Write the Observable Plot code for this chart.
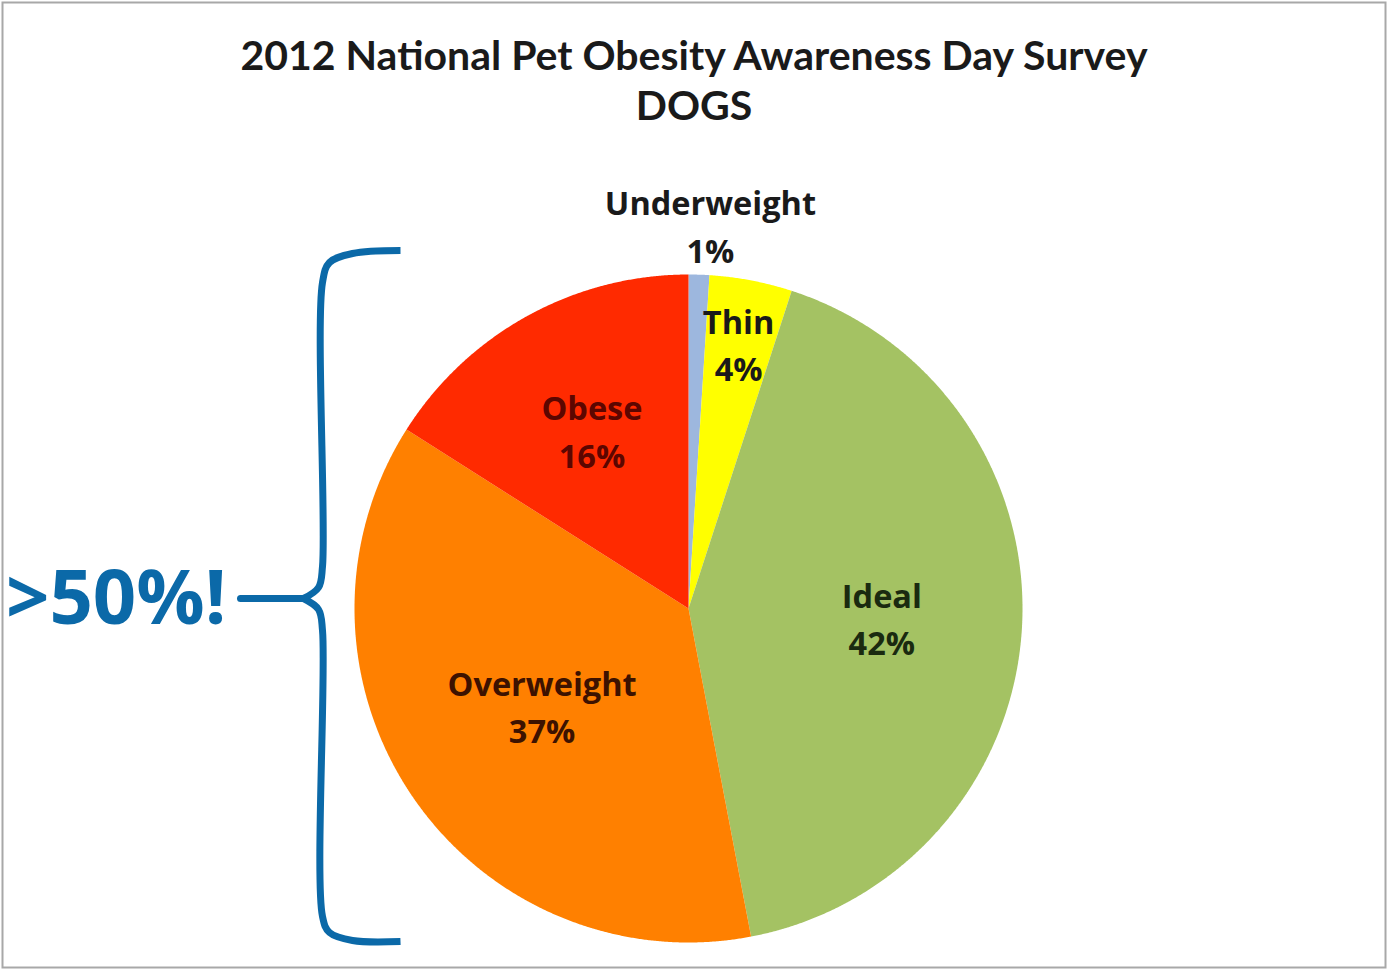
<!DOCTYPE html>
<html>
<head>
<meta charset="utf-8">
<script src="https://cdn.jsdelivr.net/npm/d3@7"></script>
<script src="https://cdn.jsdelivr.net/npm/@observablehq/plot@0.6"></script>
<style>
  html, body { margin: 0; padding: 0; background: #fff; }
  #chart { width: 1387px; height: 969px; }
</style>
</head>
<body>
<div id="chart"></div>
<script>
// ---- data ----
const categories = ["Underweight", "Thin", "Ideal", "Overweight", "Obese"];
const values = [1, 4, 42, 37, 16];
const sliceColors = ["#9db7de", "#ffff00", "#a4c263", "#ff8000", "#ff2a00"];
const labelTextColors = ["#1a1a1a", "#1a1a1a", "#1a2a10", "#3d1200", "#5c0600"];
const titleLines = ["2012 National Pet Obesity Awareness Day Survey", "DOGS"];
const calloutText = ">50%!";

// ---- layout ----
const W = 1387, H = 969;
const CX = 688, CY = 608, R = 334;           // pie centre / radius in pixels
const labelRadius = {Underweight: 1.14, Thin: 0.8, Ideal: 0.58, Overweight: 0.53, Obese: 0.6};
const labelShift = {Underweight: 10, Thin: 0, Ideal: 0, Overweight: 0, Obese: 0};
const BLUE = "#0b69a8";

const data = categories.map((c, i) => ({cat: c, value: values[i]}));
const arcs = d3.pie().sort(null).value(d => d.value)(data);

// slice polygons in radius units (y up)
const slicePts = [];
for (const a of arcs) {
  const c = a.data.cat;
  slicePts.push({cat: c, x: 0, y: 0});
  const n = Math.max(2, Math.ceil((a.endAngle - a.startAngle) / 0.004));
  for (let k = 0; k <= n; k++) {
    const t = a.startAngle + (a.endAngle - a.startAngle) * k / n;
    slicePts.push({cat: c, x: Math.sin(t), y: Math.cos(t)});
  }
  slicePts.push({cat: c, x: 0, y: 0});
}

const labels = arcs.map((a, i) => {
  const m = (a.startAngle + a.endAngle) / 2;
  const k = labelRadius[a.data.cat];
  return {
    text: a.data.cat + "\n" + a.data.value + "%",
    x: k * Math.sin(m) + labelShift[a.data.cat] / R,
    y: k * Math.cos(m),
    color: labelTextColors[i]
  };
});

// brace annotation (pixel guide points converted to radius units)
const u = px => (px - CX) / R, v = py => (CY - py) / R;
const braceTop = [[400,250],[352,253],[329,262],[322,282],[322,566],[318,587],[303,598]].map(([a,b]) => ({x: u(a), y: v(b)}));
const braceBottom = [[303,598],[318,609],[322,630],[322,916],[329,932],[352,940],[400,941]].map(([a,b]) => ({x: u(a), y: v(b)}));
const braceTick = [[240,598],[305,598]].map(([a,b]) => ({x: u(a), y: v(b)}));

const plot = Plot.plot({
  width: W,
  height: H,
  margin: 0,
  style: {fontFamily: "Lato, 'Open Sans', sans-serif", background: "#fff"},
  x: {domain: [-CX / R, (W - CX) / R], range: [0, W], axis: null},
  y: {domain: [-(H - CY) / R, CY / R], range: [H, 0], axis: null},
  color: {domain: categories, range: sliceColors},
  marks: [
    Plot.frame({stroke: "#a8a8a8", strokeWidth: 2, inset: 2}),
    Plot.line(slicePts, {x: "x", y: "y", z: "cat", fill: "cat", stroke: null, curve: "linear"}),
    ...labels.map(d => Plot.text([d], {
      x: "x", y: "y", text: "text", fill: d.color,
      fontFamily: "'Open Sans', sans-serif", dy: -4,
      fontSize: 32.5, fontWeight: "bold", lineHeight: 1.45, lineAnchor: "middle"
    })),
    Plot.text([titleLines[0]], {text: d => d, frameAnchor: "top", dx: 0, dy: 56, fontSize: 41, fontWeight: "bold", fill: "#1a1a1a", lineAnchor: "middle"}),
    Plot.text([titleLines[1]], {text: d => d, frameAnchor: "top", dx: 0, dy: 106, fontSize: 41, fontWeight: "bold", fill: "#1a1a1a", lineAnchor: "middle"}),
    Plot.line(braceTop, {x: "x", y: "y", stroke: BLUE, strokeWidth: 7, curve: "catmull-rom", strokeLinecap: "butt"}),
    Plot.line(braceBottom, {x: "x", y: "y", stroke: BLUE, strokeWidth: 7, curve: "catmull-rom", strokeLinecap: "butt"}),
    Plot.line(braceTick, {x: "x", y: "y", stroke: BLUE, strokeWidth: 7, strokeLinecap: "round"}),
    Plot.text([calloutText], {
      x: () => braceTick[0].x, y: () => braceTick[0].y, text: d => d,
      fontFamily: "'Open Sans', sans-serif",
      textAnchor: "end", dx: -14, dy: 1, fontSize: 76, fontWeight: "bold", fill: BLUE, lineAnchor: "middle"
    })
  ]
});
document.getElementById("chart").appendChild(plot);
</script>
</body>
</html>
